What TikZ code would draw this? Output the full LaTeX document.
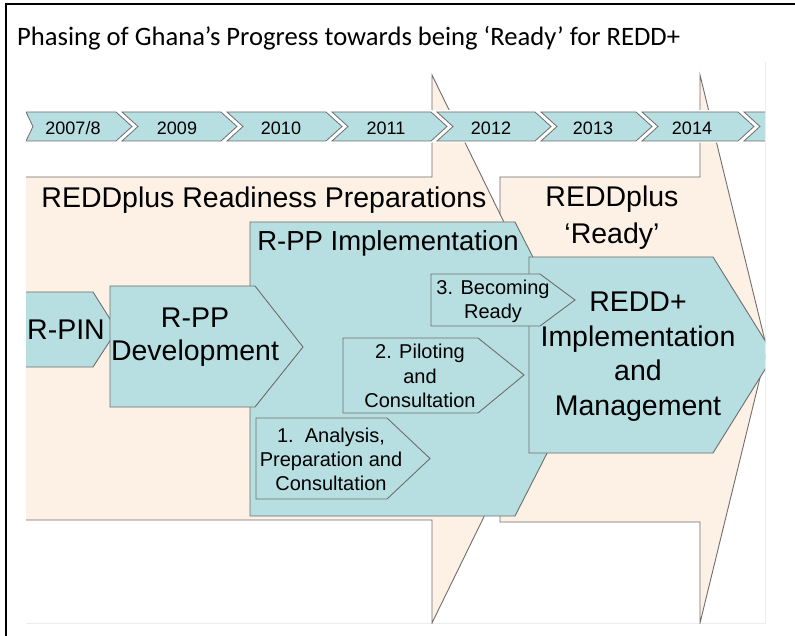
\documentclass[tikz,border=0pt]{standalone}
\usepackage{fontspec}
\setmainfont{Liberation Sans}
\newfontfamily\titlefont{Carlito}
\definecolor{tealfill}{HTML}{B7DEE1}
\definecolor{peachfill}{HTML}{FDF0E4}
\definecolor{linegray}{HTML}{6E6E6E}
\begin{document}
\begin{tikzpicture}[x=1pt,y=-1pt,
  outl/.style={draw=linegray, line width=0.9pt, line join=miter},
  peachshape/.style={outl, fill=peachfill},
  tealshape/.style={outl, fill=tealfill},
  yearshape/.style={tealshape, line width=0.8pt, preaction={draw=white, line width=3.5pt}},
  biglbl/.style={align=center, inner sep=0pt, font=\fontsize{28.5}{34.5}\selectfont},
  smalllbl/.style={align=center, inner sep=0pt, font=\fontsize{20}{24}\selectfont},
  yearlbl/.style={inner sep=0pt, font=\fontsize{18}{20}\selectfont}]
\useasboundingbox (0,0) rectangle (795,636);

% page frame and title
\draw[line width=2pt] (6,636) -- (6,4) -- (795,4);
\node[anchor=west, inner sep=0pt, font=\titlefont\fontsize{26.6}{30}\selectfont] (title) at (17,38)
  {Phasing of Ghana’s Progress towards being ‘Ready’ for REDD+};

% light frame of the phasing chart
\draw[black!7, line width=0.8pt] (26,623) -- (765,623) -- (765,62);

\begin{scope}
\clip (26,62) rectangle (765,623);

% background phase arrows
\draw[peachshape] (500,177) -- (700,177) -- (700,75) -- (767,349) -- (700,623) -- (700,522) -- (500,522) -- cycle;
\draw[peachshape] (24,177) -- (432,177) -- (432,75) -- (566,349) -- (432,623) -- (432,520) -- (24,520) -- cycle;

% timeline
\draw[yearshape] (26,112) -- (116,112) -- (132,126.5) -- (116,141) -- (26,141) -- (33,126.5) -- cycle;
\foreach \l/\r in {122/221, 227/326, 332/431, 437/535, 541/636, 642/738, 744/850}
  \draw[yearshape] (\l,112) -- (\r,112) -- ({\r+16},126.5) -- (\r,141) -- (\l,141) -- ({\l+16},126.5) -- cycle;
\node[yearlbl] (y0) at (73,128) {2007/8};
\node[yearlbl] (y1) at (177,128) {2009};
\node[yearlbl] (y2) at (281,128) {2010};
\node[yearlbl] (y3) at (386,128) {2011};
\node[yearlbl] (y4) at (491,128) {2012};
\node[yearlbl] (y5) at (593,128) {2013};
\node[yearlbl] (y6) at (692,128) {2014};

% R-PP implementation block
\draw[tealshape] (250,222) -- (515,222) -- (590,369) -- (515,516) -- (250,516) -- cycle;

% REDD+ implementation arrow
\draw[tealshape] (529,257) -- (713,257) -- (774,355) -- (713,453) -- (529,453) -- cycle;

% preparation steps
\draw[tealshape] (20,292) -- (93,292) -- (117,330) -- (93,367) -- (20,367) -- cycle;
\draw[tealshape] (110,286) -- (255,286) -- (303,347) -- (255,407) -- (110,407) -- cycle;
\draw[tealshape] (256,418) -- (387,418) -- (430,458.5) -- (387,499) -- (256,499) -- cycle;
\draw[tealshape] (343,338) -- (478,338) -- (524,375) -- (478,413) -- (343,413) -- cycle;
\draw[tealshape] (431,274) -- (540,274) -- (575,300) -- (540,326) -- (431,326) -- cycle;
\end{scope}

% labels
\node[biglbl] (prep) at (264,200) {REDDplus Readiness Preparations};
\node[biglbl, font=\fontsize{28.5}{37}\selectfont] (ready) at (612,218) {REDDplus\\‘Ready’};
\node[biglbl, font=\fontsize{27.5}{33}\selectfont] (rppimpl) at (388,243) {R-PP Implementation};
\node[biglbl] (rpin) at (66,330) {R-PIN};
\node[biglbl, font=\fontsize{28.5}{32.5}\selectfont] (rppdev) at (195,337) {R-PP\\Development};
\node[smalllbl] (step1) at (331,459) {1.\ \ Analysis,\\Preparation and\\Consultation};
\node[smalllbl, font=\fontsize{20}{24.5}\selectfont] (step2) at (420,376) {2. Piloting\\and\\Consultation};
\node[smalllbl] (step3) at (493,301) {3. Becoming\\Ready};
\node[biglbl] (reddimpl) at (638,356.5) {REDD+\\Implementation\\and\\Management};
\end{tikzpicture}
\end{document}
